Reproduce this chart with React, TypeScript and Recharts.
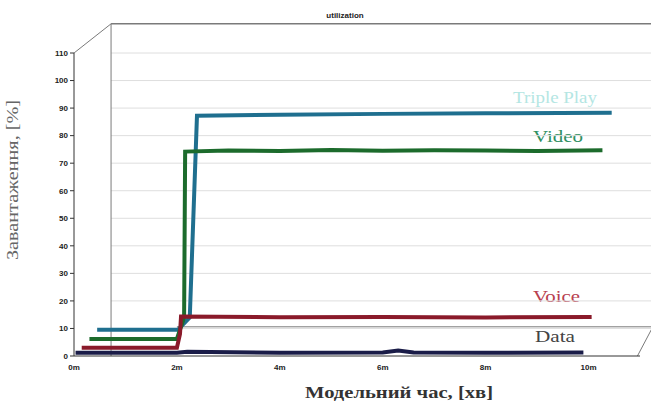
import { LineChart, Line, XAxis, YAxis, ReferenceLine, Customized } from 'recharts'

// minutes on the x axis, percent on the y axis
const xTicks = [0, 2, 4, 6, 8, 10]
const yTicks = [0, 10, 20, 30, 40, 50, 60, 70, 80, 90, 100, 110]

const tripleTime = [0.45, 2.02, 2.25, 2.39, 4, 6, 8, 10.45]
const tripleUtil = [9.5, 9.5, 14, 87.2, 87.6, 87.9, 88.1, 88.3]

const videoTime = [0.3, 2.0, 2.14, 2.16, 3, 4, 5, 6, 7, 8, 9, 10.27]
const videoUtil = [6.2, 6.2, 14, 74.2, 74.6, 74.4, 74.8, 74.5, 74.7, 74.6, 74.4, 74.7]

const voiceTime = [0.15, 2.0, 2.06, 2.08, 4, 6, 8, 10.06]
const voiceUtil = [3, 3, 8, 14.3, 14.1, 14.2, 14, 14.2]

const dataTime = [0.03, 2.0, 2.2, 4, 6, 6.3, 6.6, 8, 9.9]
const dataUtil = [1.2, 1.2, 1.5, 1.2, 1.3, 2, 1.3, 1.2, 1.3]

const toRows = (t: number[], v: number[]) => t.map((x, i) => ({ t: x, v: v[i] }))

// depth of the pseudo-3D box, in axis units
const DX = 0.72
const DY = 10.6
const X_MAX = 11
const Y_MAX = 110

const wall = '#7a7a7a'
const grid = '#dedede'

function Labels() {
  return (
    <g fontFamily="'Liberation Serif', 'DejaVu Serif', serif">
      <text x={345} y={18} textAnchor="middle" fontFamily="Arial, 'Liberation Sans', sans-serif" fontSize={8} fontWeight="bold" fill="#222">utilization</text>
      <text x={513} y={103} fontSize={16} fill="#b4e6e3" textLength={84} lengthAdjust="spacingAndGlyphs">Triple Play</text>
      <text x={533} y={142} fontSize={16} fill="#2f8f62" textLength={50} lengthAdjust="spacingAndGlyphs">Video</text>
      <text x={533} y={302} fontSize={16} fill="#b8404f" textLength={47} lengthAdjust="spacingAndGlyphs">Voice</text>
      <text x={535} y={342} fontSize={16} fill="#444" textLength={40} lengthAdjust="spacingAndGlyphs">Data</text>
      <text x={18} y={180} textAnchor="middle" fontSize={16} fill="#666" transform="rotate(-90 18 180)" textLength={160} lengthAdjust="spacingAndGlyphs">Завантаження, [%]</text>
      <text x={305} y={398} fontSize={17} fill="#333" fontWeight="bold" textLength={188} lengthAdjust="spacingAndGlyphs">Модельний час, [хв]</text>
    </g>
  )
}

export default function App() {
  return (
    <div style={{ position: 'absolute', left: 0, top: 0, width: 651, height: 403, background: '#fff' }}>
      <LineChart width={651} height={403} margin={{ top: 53, right: 11, bottom: 0, left: 34 }}>
        <XAxis
          type="number"
          dataKey="t"
          domain={[0, X_MAX]}
          ticks={xTicks}
          tickFormatter={(v) => `${v}m`}
          tick={{ fontSize: 8, fontWeight: 'bold', fill: '#222', fontFamily: 'Arial, sans-serif' }}
          tickLine={false}
          axisLine={{ stroke: '#333' }}
          height={47}
          allowDataOverflow
        />
        <YAxis
          type="number"
          domain={[0, Y_MAX]}
          ticks={yTicks}
          tick={{ fontSize: 8, fontWeight: 'bold', fill: '#222', fontFamily: 'Arial, sans-serif' }}
          tickLine={{ stroke: '#333' }}
          tickSize={4}
          axisLine={{ stroke: '#333' }}
          width={40}
          allowDataOverflow
        />

        {yTicks.slice(1).map((v) => (
          <ReferenceLine key={v} segment={[{ x: DX, y: v }, { x: X_MAX + 0.25, y: v }]} stroke={grid} ifOverflow="visible" />
        ))}
        <ReferenceLine segment={[{ x: DX, y: DY + Y_MAX }, { x: X_MAX + 0.25, y: DY + Y_MAX }]} stroke={wall} strokeWidth={1.5} ifOverflow="visible" />
        <ReferenceLine segment={[{ x: DX, y: 0 }, { x: DX, y: DY + Y_MAX }]} stroke={wall} ifOverflow="visible" />
        <ReferenceLine segment={[{ x: 0, y: Y_MAX }, { x: DX, y: DY + Y_MAX }]} stroke={wall} ifOverflow="visible" />
        <ReferenceLine segment={[{ x: 2.0, y: DY }, { x: X_MAX + 0.25, y: DY }]} stroke={wall} ifOverflow="visible" />
        <ReferenceLine segment={[{ x: X_MAX - 0.05, y: 0 }, { x: X_MAX + 0.25, y: DY }]} stroke={wall} ifOverflow="visible" />

        <Line data={toRows(tripleTime, tripleUtil)} dataKey="v" stroke="#1f6f8f" strokeWidth={4} dot={false} isAnimationActive={false} />
        <Line data={toRows(videoTime, videoUtil)} dataKey="v" stroke="#1c6b2c" strokeWidth={4} dot={false} isAnimationActive={false} />
        <Line data={toRows(voiceTime, voiceUtil)} dataKey="v" stroke="#8a1a2a" strokeWidth={4} dot={false} isAnimationActive={false} />
        <Line data={toRows(dataTime, dataUtil)} dataKey="v" stroke="#1a1c48" strokeWidth={4} dot={false} isAnimationActive={false} />

        <Customized component={<Labels />} />
      </LineChart>
    </div>
  )
}
